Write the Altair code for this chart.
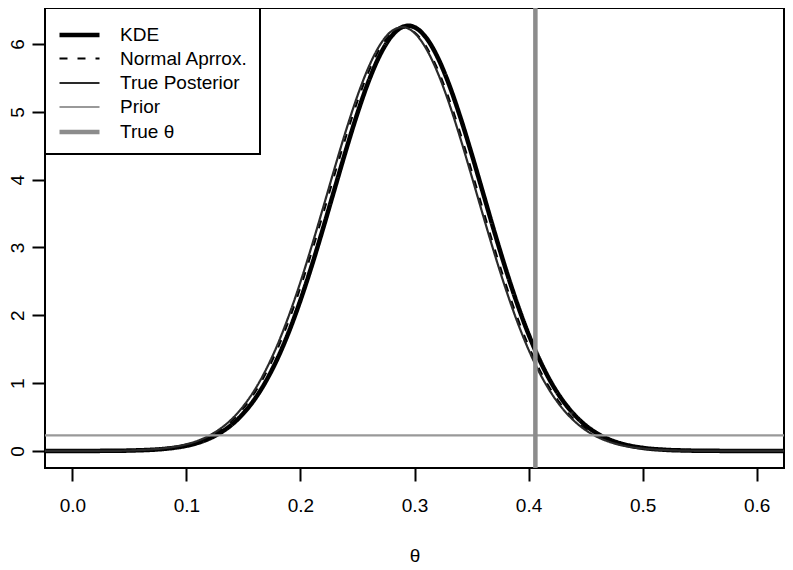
import altair as alt
import pandas as pd

# ---- data ----
theta_grid = [-0.03, 0.00, 0.02, 0.04, 0.06, 0.07, 0.08, 0.09, 0.10, 0.11, 0.12, 0.13,
              0.14, 0.15, 0.16, 0.17, 0.18, 0.19, 0.20, 0.21, 0.22, 0.23, 0.24, 0.25,
              0.26, 0.27, 0.28, 0.29, 0.295, 0.30, 0.31, 0.32, 0.33, 0.34, 0.35, 0.36, 0.37,
              0.38, 0.39, 0.40, 0.41, 0.42, 0.43, 0.44, 0.45, 0.46, 0.47, 0.48, 0.49,
              0.50, 0.52, 0.54, 0.56, 0.60, 0.63]

kde = [0.0, 0.0, 0.001, 0.003, 0.011, 0.018, 0.030, 0.049, 0.077, 0.120, 0.183, 0.271,
       0.392, 0.555, 0.767, 1.037, 1.368, 1.764, 2.223, 2.736, 3.291, 3.867, 4.440, 4.981,
       5.461, 5.848, 6.119, 6.255, 6.270, 6.248, 6.098, 5.814, 5.416, 4.930, 4.385, 3.810, 3.234,
       2.682, 2.174, 1.721, 1.332, 1.006, 0.743, 0.537, 0.378, 0.260, 0.175, 0.115, 0.074,
       0.046, 0.017, 0.006, 0.002, 0.0, 0.0]

normal_approx = [0.0, 0.0, 0.001, 0.002, 0.013, 0.022, 0.036, 0.059, 0.092, 0.142, 0.213, 0.313,
                 0.449, 0.630, 0.863, 1.156, 1.511, 1.931, 2.411, 2.940, 3.504, 4.079, 4.640, 5.157,
                 5.601, 5.943, 6.161, 6.240, 6.225, 6.175, 5.970, 5.640, 5.206, 4.694, 4.136, 3.561, 2.995,
                 2.461, 1.976, 1.550, 1.188, 0.890, 0.651, 0.466, 0.325, 0.222, 0.148, 0.096, 0.061,
                 0.038, 0.014, 0.004, 0.001, 0.0, 0.0]

true_posterior = [0.0, 0.0, 0.001, 0.002, 0.014, 0.024, 0.039, 0.063, 0.099, 0.151, 0.227, 0.332,
                  0.474, 0.663, 0.904, 1.207, 1.572, 2.003, 2.491, 3.028, 3.595, 4.172, 4.729, 5.237,
                  5.668, 5.994, 6.191, 6.250, 6.224, 6.163, 5.938, 5.590, 5.142, 4.621, 4.057, 3.480, 2.917,
                  2.389, 1.911, 1.494, 1.141, 0.852, 0.621, 0.443, 0.308, 0.209, 0.139, 0.090, 0.057,
                  0.036, 0.013, 0.004, 0.001, 0.0, 0.0]

prior_level = [0.23]
true_theta = [0.406]

series_names = ["KDE", "Normal Aprrox.", "True Posterior", "Prior", "True θ"]
x_ticks = [0.0, 0.1, 0.2, 0.3, 0.4, 0.5, 0.6]
y_ticks = [0, 1, 2, 3, 4, 5, 6]

# ---- styles ----
series_colors = ["#000000", "#000000", "#2a2a2a", "#999999", "#8c8c8c"]
series_dash = [[1, 0], [8, 10], [1, 0], [1, 0], [1, 0]]
series_width = [4.5, 2, 2.2, 2.2, 4.5]

rows = []
for name, ys in [("KDE", kde), ("Normal Aprrox.", normal_approx), ("True Posterior", true_posterior)]:
    for x, y in zip(theta_grid, ys):
        rows.append({"theta": x, "density": y, "series": name})
curves = pd.DataFrame(rows)
prior_df = pd.DataFrame({"density": prior_level, "series": ["Prior"]})
truth_df = pd.DataFrame({"theta": true_theta, "series": ["True θ"]})

FONT = "Liberation Sans"

xscale = alt.Scale(domain=[-0.024, 0.624], nice=False, zero=False)
yscale = alt.Scale(domain=[-0.2512, 6.5312], nice=False, zero=False)

legend = alt.Legend(title=None, orient="top-left", symbolType="M-1,0H2.2", symbolSize=625)

color = alt.Color("series:N", scale=alt.Scale(domain=series_names, range=series_colors), legend=legend)
dash = alt.StrokeDash("series:N", scale=alt.Scale(domain=series_names, range=series_dash), legend=legend)
width = alt.StrokeWidth("series:N", scale=alt.Scale(type="ordinal", domain=series_names, range=series_width),
                        legend=legend)

x_axis = alt.Axis(values=x_ticks, format=".1f", title="θ", labelPadding=15, titlePadding=31)
y_axis = alt.Axis(values=y_ticks, format="d", title=None, labelAngle=270, labelAlign="center",
                  labelBaseline="bottom", labelPadding=5)

lines = alt.Chart(curves).mark_line(clip=True, interpolate="monotone").encode(
    x=alt.X("theta:Q", scale=xscale, axis=x_axis),
    y=alt.Y("density:Q", scale=yscale, axis=y_axis),
    color=color, strokeDash=dash, strokeWidth=width,
    detail="series:N",
)

prior_rule = alt.Chart(prior_df).mark_rule(clip=True).encode(
    y=alt.Y("density:Q", scale=yscale),
    color=color, strokeDash=dash, strokeWidth=width,
)

truth_rule = alt.Chart(truth_df).mark_rule(clip=True).encode(
    x=alt.X("theta:Q", scale=xscale),
    color=color, strokeDash=dash, strokeWidth=width,
)

chart = alt.layer(lines, prior_rule, truth_rule).properties(
    width=739, height=460,
    autosize=alt.AutoSizeParams(type="none"),
    padding={"left": 37, "top": 0, "right": 1, "bottom": 100},
).configure_view(
    stroke="black", strokeWidth=2,
).configure_axis(
    domain=False, grid=False, tickColor="black", tickWidth=2, tickSize=13,
    labelFont=FONT, labelFontSize=19, labelColor="black",
    titleFont=FONT, titleFontSize=19, titleFontWeight="normal", titleColor="black",
).configure_legend(
    strokeColor="black", strokeWidth=2, fillColor="white", padding=12, cornerRadius=0,
    offset=0, labelFont=FONT, labelFontSize=19, labelColor="black", labelOffset=33,
    rowPadding=0,
)

chart.save("out.html", embed_options={"renderer": "svg", "actions": False})
